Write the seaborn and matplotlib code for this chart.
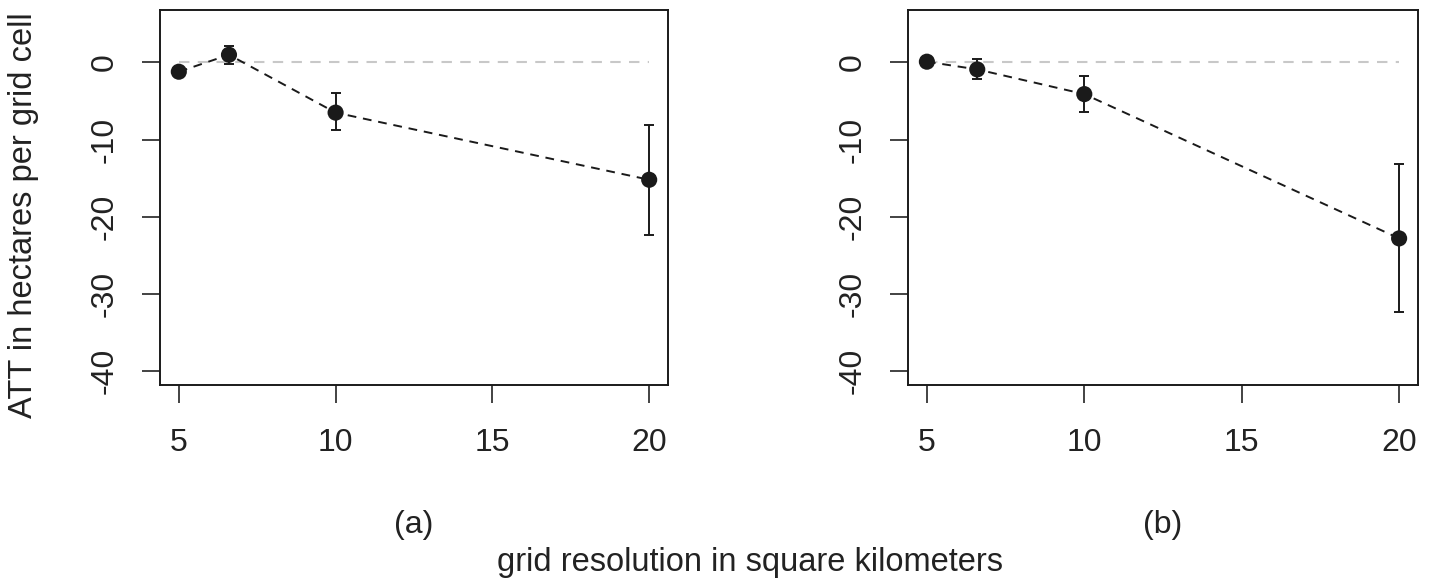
import numpy as np
import pandas as pd
import seaborn as sns
import matplotlib.pyplot as plt

# grid resolution (square km) and ATT estimates
resolution = [5, 6.6, 10, 20]

att_a = [-1.2, 1.0, -6.5, -15.2]
lo_a = [-1.6, -0.2, -8.8, -22.3]
hi_a = [-0.8, 2.1, -4.0, -8.1]

att_b = [0.1, -0.9, -4.1, -22.8]
lo_b = [-0.2, -2.1, -6.4, -32.3]
hi_b = [0.4, 0.5, -1.8, -13.2]

panel_labels = ["(a)", "(b)"]

sns.set_style("ticks")
plt.rcParams["font.family"] = ["Liberation Sans", "DejaVu Sans"]

fig = plt.figure(figsize=(14.3, 5.82), dpi=100)
W, H = 1430, 582
boxes = [(160, 10, 668, 385), (908, 10, 1418, 385)]
fs = 23
ink = "#1a1a1a"

panels = [(att_a, lo_a, hi_a), (att_b, lo_b, hi_b)]

for (x0, y0, x1, y1), (att, lo, hi), lab in zip(boxes, panels, panel_labels):
    ax = fig.add_axes([x0 / W, 1 - y1 / H, (x1 - x0) / W, (y1 - y0) / H])
    df = pd.DataFrame({"res": resolution, "att": att, "lo": lo, "hi": hi})

    # reference line at zero
    ax.plot([5, 20], [0, 0], color="#c8c8c8", lw=1.5, dashes=(5, 4), zorder=1)

    sns.lineplot(data=df, x="res", y="att", ax=ax, color=ink, lw=1.4,
                 zorder=2)
    ax.lines[-1].set_dashes((4.5, 3.5))
    ax.errorbar(df["res"], df["att"],
                yerr=[df["att"] - df["lo"], df["hi"] - df["att"]],
                fmt="none", ecolor=ink, elinewidth=1.4, capsize=3.5,
                capthick=1.4, zorder=3)
    sns.scatterplot(data=df, x="res", y="att", ax=ax, color=ink,
                    s=135, edgecolor="none", zorder=4)

    ax.set_xlim(4.4, 20.6)
    ax.set_ylim(-41.8, 6.8)
    ax.set_xticks([5, 10, 15, 20])
    ax.set_yticks([0, -10, -20, -30, -40])
    ax.set_yticklabels(["0", "-10", "-20", "-30", "-40"], rotation=90,
                       va="center")
    ax.tick_params(labelsize=fs, length=13, width=1.2, color="#222222",
                   colors="#222222", pad=18)
    ax.tick_params(axis="y", pad=16)
    for sp in ax.spines.values():
        sp.set_linewidth(1.4)
        sp.set_color(ink)
    ax.set_xlabel("")
    ax.set_ylabel("")
    fig.text((x0 + x1) / 2 / W, 1 - 525 / H, lab, ha="center", va="center",
             fontsize=fs, color="#222222")

fig.text(24 / W, 1 - 215 / H, "ATT in hectares per grid cell", rotation=90,
         ha="center", va="center", fontsize=fs + 0.5, color="#222222")
fig.text(750 / W, 1 - 562 / H, "grid resolution in square kilometers",
         ha="center", va="center", fontsize=fs + 0.5, color="#222222")

fig.savefig("out.png", dpi=100)
